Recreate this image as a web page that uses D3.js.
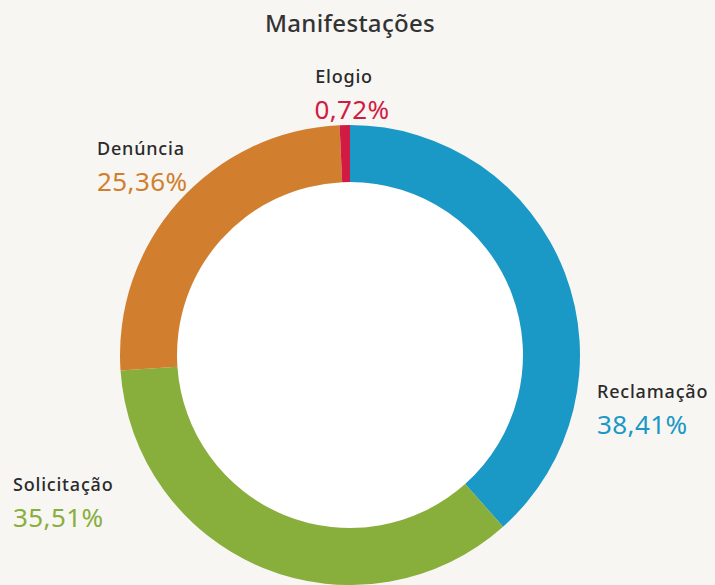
<!DOCTYPE html>
<html>
<head>
<meta charset="utf-8">
<script src="https://cdn.jsdelivr.net/npm/d3@7"></script>
<style>
  body { margin: 0; background: #f7f6f3; }
  svg { display: block; font-family: "Noto Sans", sans-serif; }
</style>
</head>
<body>
<svg id="chart" width="715" height="585"></svg>
<script>
const categories = ['Reclamação', 'Solicitação', 'Denúncia', 'Elogio']
const values = [38.41, 35.51, 25.36, 0.72]
const colors = ['#1a98c6', '#88ae3c', '#d17f2e', '#d21b44']

// where each label sits (x, baseline of name, anchor)
const labelPos = [
  { x: 597, y: 398, anchor: 'start' },
  { x: 13, y: 491, anchor: 'start' },
  { x: 97, y: 155, anchor: 'start' },
  { x: 344, y: 83, anchor: 'middle' }
]

const width = 715
const cx = 350, cy = 355
const outerR = 230, innerR = 173

const svg = d3.select('#chart')

svg.append('text')
.attr('x', 350)
.attr('y', 32)
.attr('text-anchor', 'middle')
.attr('font-size', 24)
.attr('font-weight', 500)
.attr('letter-spacing', 0.3)
.attr('fill', '#333')
.text('Manifestações')

const pie = d3.pie().sort(null).value(d => d)
const arc = d3.arc().innerRadius(innerR).outerRadius(outerR)

const g = svg.append('g').attr('transform', `translate(${cx},${cy})`)

g.append('circle')
.attr('r', innerR)
.attr('fill', '#ffffff')

g.selectAll('path')
.data(pie(values))
.enter()
.append('path')
.attr('fill', (d, i) => colors[i])
.attr('d', arc)

const fmt = v => v.toFixed(2).replace('.', ',') + '%'

const labels = svg.append('g')
.selectAll('g')
.data(categories)
.enter()
.append('g')
.attr('transform', (d, i) => `translate(${labelPos[i].x},${labelPos[i].y})`)

labels.append('text')
.attr('text-anchor', (d, i) => labelPos[i].anchor)
.attr('font-size', 18)
.attr('font-weight', 500)
.attr('letter-spacing', 0.8)
.attr('fill', '#2a2a2a')
.text(d => d)

labels.append('text')
.attr('y', 36)
.attr('x', (d, i) => labelPos[i].anchor === 'middle' ? 8 : 0)
.attr('text-anchor', (d, i) => labelPos[i].anchor)
.attr('font-size', 26)
.attr('letter-spacing', 0.4)
.attr('fill', (d, i) => colors[i])
.text((d, i) => fmt(values[i]))
</script>
</body>
</html>
